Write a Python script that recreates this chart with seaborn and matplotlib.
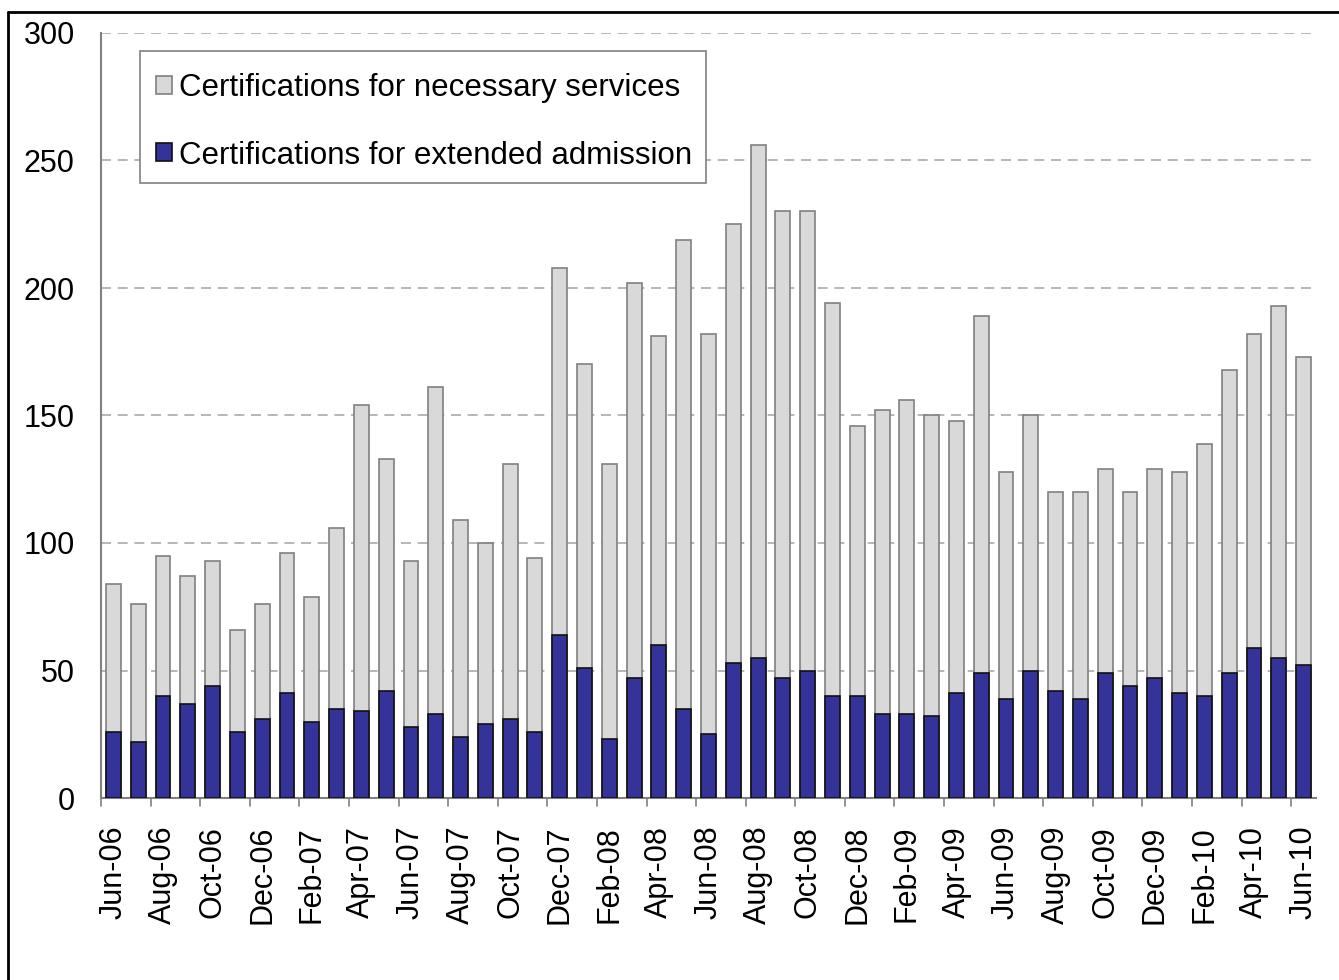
import matplotlib
matplotlib.use("Agg")
import matplotlib.pyplot as plt
from matplotlib.lines import Line2D
from matplotlib.patches import Rectangle
import seaborn as sns
import pandas as pd
import numpy as np

months = ["Jun-06","Jul-06","Aug-06","Sep-06","Oct-06","Nov-06","Dec-06","Jan-07","Feb-07","Mar-07",
          "Apr-07","May-07","Jun-07","Jul-07","Aug-07","Sep-07","Oct-07","Nov-07","Dec-07","Jan-08",
          "Feb-08","Mar-08","Apr-08","May-08","Jun-08","Jul-08","Aug-08","Sep-08","Oct-08","Nov-08",
          "Dec-08","Jan-09","Feb-09","Mar-09","Apr-09","May-09","Jun-09","Jul-09","Aug-09","Sep-09",
          "Oct-09","Nov-09","Dec-09","Jan-10","Feb-10","Mar-10","Apr-10","May-10","Jun-10"]
total = [84, 76, 95, 87, 93, 66, 76, 96, 79, 106,
         154, 133, 93, 161, 109, 100, 131, 94, 208, 170,
         131, 202, 181, 219, 182, 225, 256, 230, 230, 194,
         146, 152, 156, 150, 148, 189, 128, 150, 120, 120,
         129, 120, 129, 128, 139, 168, 182, 193, 173]
extended = [26, 22, 40, 37, 44, 26, 31, 41, 30, 35,
            34, 42, 28, 33, 24, 29, 31, 26, 64, 51,
            23, 47, 60, 35, 25, 53, 55, 47, 50, 40,
            40, 33, 33, 32, 41, 49, 39, 50, 42, 39,
            49, 44, 47, 41, 40, 49, 59, 55, 52]
necessary = [t - e for t, e in zip(total, extended)]
yticks = [0, 50, 100, 150, 200, 250, 300]

df = pd.DataFrame({"month": months, "total": total, "extended": extended, "necessary": necessary})

sns.set_style("white")
plt.rcParams["font.family"] = ["Liberation Sans", "DejaVu Sans"]
plt.rcParams["text.color"] = "black"
plt.rcParams["xtick.color"] = "black"
plt.rcParams["ytick.color"] = "black"

W, H = 1339, 980
AX_L, AX_R, AX_T, AX_B = 101, 1316, 33, 798
fig = plt.figure(figsize=(W / 100, H / 100), dpi=100)
ax = fig.add_axes([AX_L / W, 1 - AX_B / H, (AX_R - AX_L) / W, (AX_B - AX_T) / H])

def ax_x(px):
    return (px - AX_L) / (AX_R - AX_L)

def ax_y(py):
    return (AX_B - py) / (AX_B - AX_T)

grey = "#D9D9D9"
blue = "#333399"
sns.barplot(data=df, x="month", y="total", color=grey, edgecolor="#808080", linewidth=1.2,
            width=0.6, saturation=1, ax=ax, label="Certifications for necessary services", zorder=3)
sns.barplot(data=df, x="month", y="extended", color=blue, edgecolor="#111111", linewidth=1.2,
            width=0.6, saturation=1, ax=ax, label="Certifications for extended admission", zorder=4)

ax.set_xlim(-0.5, len(months) - 0.5)
ax.set_ylim(0, 300)
ax.set_yticks(yticks)
ax.set_yticklabels([str(v) for v in yticks], fontsize=22)
ax.yaxis.grid(True, linestyle=(0, (6, 4)), color="#AAAAAA", linewidth=1.2, zorder=0)
ax.set_axisbelow(True)

ax.set_xticks(np.arange(0, len(months), 2))
ax.set_xticklabels(months[::2], rotation=90, fontsize=22)
ax.tick_params(axis="x", length=0, pad=20)
ax.tick_params(axis="y", length=0, pad=19)
# category boundary tick marks every 2 bars
for b in np.arange(-0.5, len(months), 2):
    ax.plot([b, b], [0, -0.0105], transform=ax.get_xaxis_transform(), color="#808080",
            lw=1.2, clip_on=False)

ax.set_xlabel("")
ax.set_ylabel("")
for s in ["top", "right"]:
    ax.spines[s].set_visible(False)
for s in ["left", "bottom"]:
    ax.spines[s].set_color("#808080")
    ax.spines[s].set_linewidth(1.5)

# legend box
box = Rectangle((ax_x(140), ax_y(183)), ax_x(706) - ax_x(140), ax_y(51) - ax_y(183),
                transform=ax.transAxes, facecolor="white", edgecolor="#808080", lw=1.2,
                zorder=10, clip_on=False)
ax.add_patch(box)
leg = ax.legend(loc="upper left", bbox_to_anchor=(ax_x(156), ax_y(73)), fontsize=22.5,
                frameon=False, handlelength=0.5, handleheight=0.5, handletextpad=0.25,
                labelspacing=1.2, borderpad=0, borderaxespad=0)
leg.set_zorder(11)

# partial outer frame (top and left edges)
fig.add_artist(Line2D([8 / W, 1], [1 - 12 / H, 1 - 12 / H], transform=fig.transFigure,
                      color="black", lw=2))
fig.add_artist(Line2D([8 / W, 8 / W], [0, 1 - 12 / H], transform=fig.transFigure,
                      color="black", lw=2))

fig.savefig("out.png", dpi=100)
